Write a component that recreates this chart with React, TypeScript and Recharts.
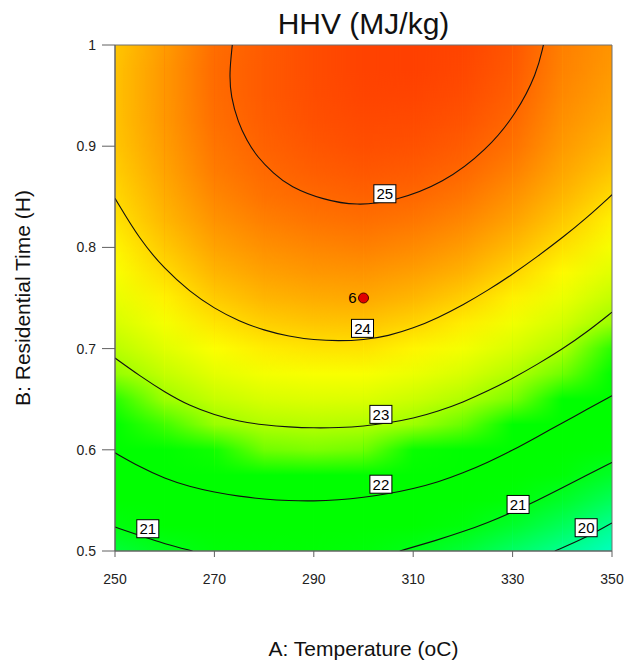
import { ComposedChart, Line, ReferenceArea, Scatter, XAxis, YAxis } from "recharts";

const FONT = "'Liberation Sans', Arial, Helvetica, sans-serif";

// grid columns (temperature, oC) and rows (residential time, H, bottom -> top)
const temps = [250, 260, 270, 280, 290, 300, 310, 320, 330, 340, 350];
const times = [
  0.5, 0.525, 0.55, 0.575, 0.6, 0.625, 0.65, 0.675, 0.7, 0.725, 0.75, 0.775, 0.8, 0.825, 0.85, 0.875, 0.9, 0.925,
  0.95, 0.975, 1.0,
];

// HHV (MJ/kg), one array per temperature column
const hhv250 = [20.63, 21.01, 21.36, 21.7, 22.03, 22.33, 22.6, 22.85, 23.08, 23.29, 23.48, 23.64, 23.78, 23.9, 24.0, 24.08, 24.14, 24.17, 24.18, 24.17, 24.14];
const hhv260 = [20.9, 21.3, 21.67, 22.03, 22.35, 22.63, 22.9, 23.15, 23.39, 23.6, 23.8, 23.97, 24.12, 24.25, 24.35, 24.43, 24.5, 24.54, 24.55, 24.55, 24.52];
const hhv270 = [21.15, 21.52, 21.88, 22.24, 22.57, 22.87, 23.16, 23.43, 23.67, 23.9, 24.1, 24.28, 24.44, 24.58, 24.7, 24.79, 24.86, 24.91, 24.94, 24.95, 24.93];
const hhv280 = [21.18, 21.58, 21.98, 22.35, 22.69, 23.01, 23.31, 23.59, 23.84, 24.07, 24.28, 24.46, 24.62, 24.76, 24.88, 24.97, 25.05, 25.1, 25.13, 25.13, 25.12];
const hhv290 = [21.21, 21.61, 22.01, 22.38, 22.73, 23.05, 23.36, 23.64, 23.91, 24.15, 24.36, 24.55, 24.71, 24.86, 24.98, 25.09, 25.17, 25.23, 25.26, 25.28, 25.27];
const hhv300 = [21.15, 21.55, 21.95, 22.33, 22.69, 23.02, 23.35, 23.64, 23.92, 24.16, 24.39, 24.58, 24.76, 24.91, 25.05, 25.16, 25.25, 25.31, 25.36, 25.38, 25.38];
const hhv310 = [20.93, 21.36, 21.79, 22.19, 22.56, 22.9, 23.21, 23.51, 23.78, 24.03, 24.27, 24.48, 24.67, 24.84, 24.99, 25.12, 25.22, 25.3, 25.36, 25.4, 25.41];
const hhv320 = [20.65, 21.1, 21.53, 21.95, 22.33, 22.68, 23.01, 23.31, 23.59, 23.84, 24.08, 24.3, 24.51, 24.69, 24.85, 24.99, 25.11, 25.2, 25.28, 25.33, 25.36];
const hhv330 = [20.29, 20.75, 21.18, 21.6, 22.01, 22.38, 22.72, 23.03, 23.32, 23.57, 23.81, 24.03, 24.24, 24.44, 24.61, 24.76, 24.89, 24.99, 25.08, 25.14, 25.18];
const hhv340 = [19.97, 20.37, 20.77, 21.18, 21.59, 22.0, 22.36, 22.69, 23.0, 23.27, 23.51, 23.74, 23.94, 24.12, 24.28, 24.42, 24.53, 24.62, 24.69, 24.74, 24.77];
const hhv350 = [19.51, 19.95, 20.37, 20.78, 21.2, 21.58, 21.95, 22.29, 22.6, 22.88, 23.15, 23.39, 23.61, 23.8, 23.98, 24.14, 24.27, 24.38, 24.47, 24.53, 24.58];
const hhvGrid = [hhv250, hhv260, hhv270, hhv280, hhv290, hhv300, hhv310, hhv320, hhv330, hhv340, hhv350];

// contour lines (A = temperature, B = time)
const contour25 = [
  { A: 273.6, B: 1.0 }, { A: 273.0, B: 0.972 }, { A: 273.3, B: 0.949 }, { A: 274.8, B: 0.923 },
  { A: 276.5, B: 0.906 }, { A: 278.5, B: 0.89 }, { A: 281.9, B: 0.873 }, { A: 285.2, B: 0.86 },
  { A: 291.9, B: 0.847 }, { A: 298.6, B: 0.8412 }, { A: 306.0, B: 0.8452 }, { A: 316.1, B: 0.8633 },
  { A: 324.8, B: 0.8962 }, { A: 330.8, B: 0.9325 }, { A: 334.9, B: 0.972 }, { A: 336.2, B: 1.0 },
];
const contour24 = [
  { A: 250, B: 0.8485 }, { A: 255, B: 0.8075 }, { A: 260, B: 0.7785 }, { A: 265, B: 0.7565 }, { A: 270, B: 0.7395 },
  { A: 275, B: 0.727 }, { A: 280, B: 0.718 }, { A: 285, B: 0.712 }, { A: 290, B: 0.7085 }, { A: 295, B: 0.7075 },
  { A: 300, B: 0.7085 }, { A: 305, B: 0.7125 }, { A: 310, B: 0.72 }, { A: 315, B: 0.7305 }, { A: 320, B: 0.743 },
  { A: 325, B: 0.7575 }, { A: 330, B: 0.7735 }, { A: 335, B: 0.791 }, { A: 340, B: 0.8095 }, { A: 345, B: 0.8295 },
  { A: 350, B: 0.852 },
];
const contour23 = [
  { A: 250, B: 0.6907 }, { A: 255, B: 0.673 }, { A: 260, B: 0.657 }, { A: 265, B: 0.6435 }, { A: 270, B: 0.6345 },
  { A: 275, B: 0.628 }, { A: 280, B: 0.6245 }, { A: 285, B: 0.6225 }, { A: 290, B: 0.6215 }, { A: 295, B: 0.6218 },
  { A: 300, B: 0.6232 }, { A: 305, B: 0.6265 }, { A: 310, B: 0.631 }, { A: 315, B: 0.638 }, { A: 320, B: 0.647 },
  { A: 325, B: 0.658 }, { A: 330, B: 0.6705 }, { A: 335, B: 0.6845 }, { A: 340, B: 0.6995 }, { A: 345, B: 0.7165 },
  { A: 350, B: 0.736 },
];
const contour22 = [
  { A: 250, B: 0.597 }, { A: 255, B: 0.583 }, { A: 260, B: 0.5715 }, { A: 265, B: 0.5635 }, { A: 270, B: 0.558 },
  { A: 275, B: 0.554 }, { A: 280, B: 0.5512 }, { A: 285, B: 0.5497 }, { A: 290, B: 0.5493 }, { A: 295, B: 0.5505 },
  { A: 300, B: 0.553 }, { A: 305, B: 0.5565 }, { A: 310, B: 0.5615 }, { A: 315, B: 0.568 }, { A: 320, B: 0.577 },
  { A: 325, B: 0.5875 }, { A: 330, B: 0.5995 }, { A: 335, B: 0.613 }, { A: 340, B: 0.6265 }, { A: 345, B: 0.64 },
  { A: 350, B: 0.6535 },
];
const contour21a = [{ A: 250, B: 0.5237 }, { A: 255, B: 0.5152 }, { A: 260, B: 0.507 }, { A: 265.6, B: 0.5 }];
const contour21b = [
  { A: 307.3, B: 0.5 }, { A: 315, B: 0.511 }, { A: 320, B: 0.519 }, { A: 325, B: 0.528 }, { A: 330, B: 0.5385 },
  { A: 335, B: 0.55 }, { A: 340, B: 0.5625 }, { A: 345, B: 0.575 }, { A: 350, B: 0.5875 },
];
const contour20 = [{ A: 338.5, B: 0.5 }, { A: 345, B: 0.5138 }, { A: 350, B: 0.5277 }];
const contours = [contour25, contour24, contour23, contour22, contour21a, contour21b, contour20];

const contourLabels = [
  { A: 304.3, B: 0.853, level: "25" },
  { A: 299.8, B: 0.72, level: "24" },
  { A: 303.5, B: 0.635, level: "23" },
  { A: 303.5, B: 0.566, level: "22" },
  { A: 331.1, B: 0.546, level: "21" },
  { A: 344.8, B: 0.523, level: "20" },
  { A: 256.6, B: 0.522, level: "21" },
];

const designPoints = [{ A: 300, B: 0.75, run: "6" }];

const xTicks = [250, 270, 290, 310, 330, 350];
const yTicks = [0.5, 0.6, 0.7, 0.8, 0.9, 1];

// colour ramp: cyan-green -> green -> yellow -> orange -> red
const colorStops: [number, number[]][] = [
  [19.4, [0, 255, 200]],
  [20.0, [0, 255, 140]],
  [20.5, [0, 255, 70]],
  [21.0, [0, 255, 15]],
  [21.3, [0, 255, 0]],
  [22.55, [0, 255, 0]],
  [22.7, [120, 255, 0]],
  [23.0, [176, 255, 0]],
  [23.3, [215, 255, 0]],
  [23.7, [255, 255, 0]],
  [24.0, [255, 216, 0]],
  [24.3, [255, 178, 0]],
  [24.6, [255, 146, 0]],
  [24.9, [255, 112, 0]],
  [25.15, [255, 88, 0]],
  [25.4, [255, 64, 0]],
];

function rgb(c: number[]) {
  return `rgb(${c.map((v) => Math.round(v)).join(",")})`;
}

function hhvColor(v: number) {
  if (v <= colorStops[0][0]) return rgb(colorStops[0][1]);
  for (let i = 1; i < colorStops.length; i++) {
    const [v1, c1] = colorStops[i];
    if (v <= v1) {
      const [v0, c0] = colorStops[i - 1];
      const t = (v - v0) / (v1 - v0);
      return rgb(c0.map((c, k) => c + (c1[k] - c) * t));
    }
  }
  return rgb(colorStops[colorStops.length - 1][1]);
}

// one vertical gradient per temperature column; neighbouring strips are
// blended left-to-right with an alpha ramp so the surface has no hard seams
function SurfaceDefs() {
  const last = temps.length - 1;
  const tMin = times[0];
  const tMax = times[times.length - 1];
  return (
    <svg width={0} height={0} style={{ position: "absolute" }}>
      <defs>
        <linearGradient id="hramp" x1="0" y1="0" x2="1" y2="0">
          <stop offset="0" stopColor="#fff" stopOpacity={0} />
          <stop offset="1" stopColor="#fff" stopOpacity={1} />
        </linearGradient>
        <mask id="rampHalf" maskContentUnits="objectBoundingBox" style={{ maskType: "alpha" }}>
          <rect x={0} y={0} width={0.5} height={1} fill="url(#hramp)" />
          <rect x={0.5} y={0} width={0.5} height={1} fill="#fff" />
        </mask>
        <mask id="rampFull" maskContentUnits="objectBoundingBox" style={{ maskType: "alpha" }}>
          <rect x={0} y={0} width={1} height={1} fill="url(#hramp)" />
        </mask>
        {hhvGrid.map((col, i) => (
          <linearGradient key={`g${i}`} id={`hhvCol${i}`} x1="0" y1="0" x2="0" y2="1">
            {col
              .map((v, j) => ({ v, off: (tMax - times[j]) / (tMax - tMin) }))
              .reverse()
              .map((s, k) => (
                <stop key={k} offset={s.off} stopColor={hhvColor(s.v)} />
              ))}
          </linearGradient>
        ))}
        {hhvGrid.map((_, i) => (
          <pattern
            key={`p${i}`}
            id={`hhvStrip${i}`}
            patternUnits="objectBoundingBox"
            patternContentUnits="objectBoundingBox"
            x={0}
            y={0}
            width={1}
            height={1}
          >
            <rect
              x={0}
              y={0}
              width={1}
              height={1}
              fill={`url(#hhvCol${i})`}
              mask={i === 0 ? undefined : i === last ? "url(#rampFull)" : "url(#rampHalf)"}
            />
          </pattern>
        ))}
      </defs>
    </svg>
  );
}

function LevelBox(props: any) {
  const { cx, cy, payload } = props;
  if (cx == null || cy == null) return <g />;
  return (
    <g>
      <rect x={cx - 11} y={cy - 9} width={22} height={18} fill="#fff" stroke="#000" strokeWidth={1} />
      <text x={cx} y={cy} dy="0.36em" textAnchor="middle" fontSize={15} fontFamily={FONT} fill="#000">
        {payload.level}
      </text>
    </g>
  );
}

function DesignPoint(props: any) {
  const { cx, cy, payload } = props;
  if (cx == null || cy == null) return <g />;
  return (
    <g>
      <circle cx={cx} cy={cy} r={5} fill="#e00000" stroke="#500000" strokeWidth={1} />
      <text x={cx - 7} y={cy} dy="0.36em" textAnchor="end" fontSize={15} fontFamily={FONT} fill="#000">
        {payload.run}
      </text>
    </g>
  );
}

export default function App() {
  const last = temps.length - 1;
  const tick = { fill: "#222", fontSize: 14, fontFamily: FONT };
  return (
    <div style={{ position: "absolute", left: 0, top: 0, width: 626, height: 666, background: "#fff" }}>
      <SurfaceDefs />
      <div
        style={{
          position: "absolute",
          left: 115,
          width: 497,
          top: 7,
          textAlign: "center",
          fontFamily: FONT,
          fontSize: 30,
          color: "#111",
          lineHeight: "34px",
        }}
      >
        HHV (MJ/kg)
      </div>
      <ComposedChart width={626} height={666} margin={{ top: 45, right: 14, bottom: 0, left: 0 }}>
        <XAxis
          type="number"
          dataKey="A"
          domain={[250, 350]}
          ticks={xTicks}
          allowDataOverflow
          height={115}
          tickSize={6}
          tickMargin={17}
          stroke="#606060"
          tick={tick}
          label={{ value: "A: Temperature (oC)", position: "insideBottom", offset: 10, fill: "#111", fontSize: 21, fontFamily: FONT }}
        />
        <YAxis
          type="number"
          dataKey="B"
          domain={[0.5, 1]}
          ticks={yTicks}
          allowDataOverflow
          width={115}
          tickSize={13}
          tickMargin={6}
          stroke="#606060"
          tick={tick}
          tickFormatter={(v) => String(v)}
          label={{
            content: ({ viewBox }: any) => {
              const cx = 22;
              const cy = viewBox.y + viewBox.height / 2;
              return (
                <text
                  x={cx}
                  y={cy}
                  transform={`rotate(-90, ${cx}, ${cy})`}
                  textAnchor="middle"
                  dy="0.36em"
                  fontSize={21}
                  fontFamily={FONT}
                  fill="#111"
                >
                  B: Residential Time (H)
                </text>
              );
            },
          }}
        />
        {temps.map((t, i) => (
          <ReferenceArea
            key={t}
            x1={i === 0 ? t : temps[i - 1]}
            x2={i === last ? t : temps[i + 1]}
            y1={0.5}
            y2={1}
            fill={`url(#hhvStrip${i})`}
            fillOpacity={1}
            stroke="none"
          />
        ))}
        <ReferenceArea x1={250} x2={350} y1={0.5} y2={1} fill="none" fillOpacity={0} stroke="#707070" strokeWidth={1} />
        {contours.map((c, i) => (
          <Line
            key={`c${i}`}
            data={c}
            dataKey="B"
            type="basis"
            stroke="#111"
            strokeWidth={1.1}
            dot={false}
            activeDot={false}
            isAnimationActive={false}
          />
        ))}
        <Scatter data={contourLabels} dataKey="B" shape={LevelBox} isAnimationActive={false} />
        <Scatter data={designPoints} dataKey="B" shape={DesignPoint} isAnimationActive={false} />
      </ComposedChart>
    </div>
  );
}
